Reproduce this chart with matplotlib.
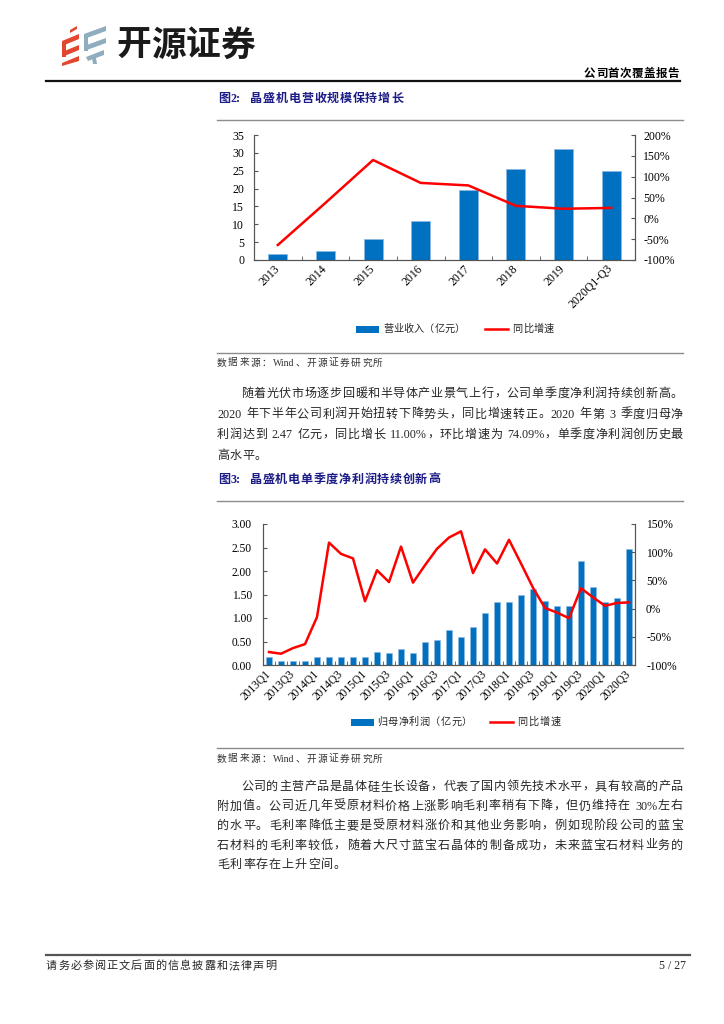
import matplotlib
matplotlib.use('Agg')
import matplotlib.pyplot as plt
from matplotlib.patches import Polygon, Rectangle
from matplotlib.lines import Line2D
from matplotlib.ticker import FuncFormatter
import numpy as np

# ---------------- data ----------------
years = ['2013', '2014', '2015', '2016', '2017', '2018', '2019', '2020Q1-Q3']
revenue = [1.7, 2.5, 5.9, 11.0, 19.5, 25.4, 31.1, 24.8]
revenue_yoy = [-64, 37, 140, 85, 79, 30, 23, 25]

quarters = ['2013Q1', '2013Q2', '2013Q3', '2013Q4',
            '2014Q1', '2014Q2', '2014Q3', '2014Q4',
            '2015Q1', '2015Q2', '2015Q3', '2015Q4',
            '2016Q1', '2016Q2', '2016Q3', '2016Q4',
            '2017Q1', '2017Q2', '2017Q3', '2017Q4',
            '2018Q1', '2018Q2', '2018Q3', '2018Q4',
            '2019Q1', '2019Q2', '2019Q3', '2019Q4',
            '2020Q1', '2020Q2', '2020Q3']
net_profit = [0.18, 0.08, 0.09, 0.08,
              0.16, 0.17, 0.18, 0.16,
              0.18, 0.27, 0.26, 0.33,
              0.26, 0.50, 0.54, 0.74,
              0.60, 0.81, 1.11, 1.34,
              1.35, 1.50, 1.61, 1.36,
              1.26, 1.25, 2.21, 1.65,
              1.34, 1.42, 2.47]
profit_yoy = [-77, -80, -70, -63,
              -15, 117, 97, 89,
              13, 68, 47, 110,
              46, 77, 106, 126,
              137, 63, 105, 80,
              122, 80, 37, 1,
              -7, -17, 36, 20,
              5, 10, 11]

legend1 = ['营业收入（亿元）', '同比增速']
legend2 = ['归母净利润（亿元）', '同比增速']

title1 = '图2:  晶盛机电营收规模保持增长'
title2 = '图3:  晶盛机电单季度净利润持续创新高'
source = '数据来源：Wind、开源证券研究所'
para1 = ['随着光伏市场逐步回暖和半导体产业景气上行，公司单季度净利润持续创新高。',
         '2020 年下半年公司利润开始扭转下降势头，同比增速转正。2020 年第 3 季度归母净',
         '利润达到 2.47 亿元，同比增长 11.00%，环比增速为 74.09%，单季度净利润创历史最',
         '高水平。']
para2 = ['公司的主营产品是晶体硅生长设备，代表了国内领先技术水平，具有较高的产品',
         '附加值。公司近几年受原材料价格上涨影响毛利率稍有下降，但仍维持在 30%左右',
         '的水平。毛利率降低主要是受原材料涨价和其他业务影响，例如现阶段公司的蓝宝',
         '石材料的毛利率较低，随着大尺寸蓝宝石晶体的制备成功，未来蓝宝石材料业务的',
         '毛利率存在上升空间。']
header_right = '公司首次覆盖报告'
logo_text = '开源证券'
footer = '请务必参阅正文后面的信息披露和法律声明'
page_no = '5 / 27'

# ---------------- style ----------------
BLUE = '#0070C0'
RED = '#FF0000'
NAVY = '#1C1C86'
SPINE = '#555555'
GREY_LINE = '#8C8C8C'
TEXT_C = '#262626'
SERIF_CJK = ['Liberation Serif', 'Noto Sans CJK SC', 'DejaVu Sans']
CJK_FIRST = ['Noto Sans CJK SC', 'DejaVu Sans']

W, H = 724, 1024
fig = plt.figure(figsize=(7.24, 10.24), dpi=100)
fig.patch.set_facecolor('white')
renderer = fig.canvas.get_renderer()


def fx(x):
    return x / W


def fy(y):
    return 1 - y / H


def hline(x0, x1, y, color, lw):
    fig.add_artist(Line2D([fx(x0), fx(x1)], [fy(y), fy(y)], color=color, lw=lw,
                          transform=fig.transFigure))


def tokens_of(s):
    toks = []
    buf = ''
    for ch in s:
        if ch == ' ':
            if buf:
                toks.append(buf)
                buf = ''
            toks.append(' ')
        elif ord(ch) < 128:
            buf += ch
        else:
            if buf:
                toks.append(buf)
                buf = ''
            toks.append(ch)
    if buf:
        toks.append(buf)
    return toks


def draw_line(s, x0, y, size, x1=None, gap=0.6, weight='normal', color='black',
              family=SERIF_CJK):
    toks = tokens_of(s)
    objs = []
    widths = []
    space_w = size * 100 / 72 * 0.3
    for t in toks:
        if t == ' ':
            objs.append(None)
            widths.append(space_w)
            continue
        o = fig.text(0, fy(y), t, fontsize=size, fontweight=weight, color=color,
                     family=family, ha='left', va='center')
        objs.append(o)
        widths.append(o.get_window_extent(renderer).width)
    n_gaps = len(toks) - 1
    if x1 is not None and n_gaps > 0:
        gap = max((x1 - x0 - sum(widths)) / n_gaps, 0.0)
    x = x0
    for o, w in zip(objs, widths):
        if o is not None:
            o.set_x(fx(x))
        x += w + gap
    return gap


# ---------------- page header ----------------
red_c = '#E2472F'
blue_c = '#8FADBF'
red_polys = [
    [(70, 30), (77, 26), (77, 29), (70, 33)],
    [(62, 41), (79, 34), (79, 39), (62, 46)],
    [(62, 52), (79, 45), (79, 50), (62, 57)],
    [(62, 63), (79, 56), (79, 61), (62, 66)],
    [(62, 41), (66, 41), (66, 57), (62, 57)],
]
blue_polys = [
    [(84, 34), (106, 26), (106, 31), (84, 39)],
    [(84, 46), (106, 38), (106, 43), (84, 51)],
    [(86, 57), (104, 50), (104, 55), (88, 61)],
    [(84, 34), (88, 34), (88, 51), (84, 51)],
    [(92, 58), (96, 58), (97, 64), (93, 64)],
]
for p in red_polys:
    fig.add_artist(Polygon([(fx(a), fy(b)) for a, b in p], closed=True,
                           facecolor=red_c, edgecolor='none', transform=fig.transFigure))
for p in blue_polys:
    fig.add_artist(Polygon([(fx(a), fy(b)) for a, b in p], closed=True,
                           facecolor=blue_c, edgecolor='none', transform=fig.transFigure))
draw_line(logo_text, 116, 45, 25, x1=255, weight='bold', color='#1a1a1a',
          family=CJK_FIRST)

draw_line(header_right, 584, 73, 8.3, x1=679, weight='bold', color='black',
          family=CJK_FIRST)
hline(46, 680, 81, '#111111', 1.6)

# ---------------- figure 2 ----------------
draw_line(title1, 218, 99, 8.7, x1=403, weight='bold', color=NAVY)
hline(217, 683, 120, GREY_LINE, 1.0)

ax1 = fig.add_axes([fx(254), fy(260), fx(635) - fx(254), (260 - 135) / H])
x1 = np.arange(len(years))
ax1.bar(x1, revenue, width=0.4, color=BLUE, edgecolor='#8DB9E2', linewidth=0.5,
        zorder=2)
ax1.set_xlim(-0.5, len(years) - 0.5)
ax1.set_ylim(0, 35)
ax1.set_yticks(np.arange(0, 36, 5))
ax1.set_xticks(x1)
ax1.set_xticklabels(years, rotation=45, ha='right', va='center',
                    rotation_mode='anchor')
ax1.set_xticks(np.arange(-0.5, len(years), 1), minor=True)
ax1.tick_params(axis='x', which='major', length=0, pad=5)
ax1.tick_params(axis='x', which='minor', length=3, direction='in', color=SPINE)
ax1.tick_params(axis='y', length=3, direction='in', pad=7, color=SPINE)
ax1.spines['top'].set_visible(False)
for sp in ['left', 'right', 'bottom']:
    ax1.spines[sp].set_color(SPINE)
    ax1.spines[sp].set_linewidth(0.8)
for lab in ax1.get_xticklabels() + ax1.get_yticklabels():
    lab.set_family('Liberation Serif')
    lab.set_fontsize(8.5)

ax1b = ax1.twinx()
ax1b.plot(x1, revenue_yoy, color=RED, lw=1.8, zorder=3)
ax1b.set_ylim(-100, 200)
ax1b.set_yticks(np.arange(-100, 201, 50))
ax1b.yaxis.set_major_formatter(FuncFormatter(lambda v, p: f'{v:.0f}%'))
ax1b.tick_params(axis='y', length=3, direction='in', pad=6, color=SPINE)
ax1b.spines['top'].set_visible(False)
for sp in ['left', 'right', 'bottom']:
    ax1b.spines[sp].set_color(SPINE)
    ax1b.spines[sp].set_linewidth(0.8)
for lab in ax1b.get_yticklabels():
    lab.set_family('Liberation Serif')
    lab.set_fontsize(8.5)

# legend 1
fig.add_artist(Rectangle((fx(356), fy(332.5)), (379 - 356) / W, 7 / H,
                         facecolor=BLUE, edgecolor='none', transform=fig.transFigure))
draw_line(legend1[0], 383, 329, 7.3, x1=465, family=CJK_FIRST, color=TEXT_C)
fig.add_artist(Line2D([fx(485), fx(508)], [fy(329), fy(329)], color=RED, lw=1.8,
                      transform=fig.transFigure))
draw_line(legend1[1], 512, 329, 7.3, x1=554, family=CJK_FIRST, color=TEXT_C)

hline(217, 683, 353, GREY_LINE, 1.0)
draw_line(source, 217, 363, 7, x1=383, color='#333333')

# paragraph 1
ys1 = [394, 414.5, 435, 455.5]
g = 0.6
for i, (line, yy) in enumerate(zip(para1, ys1)):
    x0 = 241 if i == 0 else 217
    if i < len(para1) - 1:
        g = draw_line(line, x0, yy, 8.7, x1=683, color=TEXT_C)
    else:
        draw_line(line, x0, yy, 8.7, gap=g, color=TEXT_C)

# ---------------- figure 3 ----------------
draw_line(title2, 218, 480, 8.7, x1=440, weight='bold', color=NAVY)
hline(217, 683, 501, GREY_LINE, 1.0)

ax2 = fig.add_axes([fx(263), fy(665), fx(635) - fx(263), (665 - 524) / H])
x2 = np.arange(len(quarters))
ax2.bar(x2, net_profit, width=0.48, color=BLUE, edgecolor='#8DB9E2', linewidth=0.4,
        zorder=2)
ax2.set_xlim(-0.5, len(quarters) - 0.5)
ax2.set_ylim(0, 3.0)
ax2.set_yticks(np.arange(0, 3.01, 0.5))
ax2.yaxis.set_major_formatter(FuncFormatter(lambda v, p: f'{v:.2f}'))
ax2.set_xticks(x2[::2])
ax2.set_xticklabels(quarters[::2], rotation=45, ha='right', va='center',
                    rotation_mode='anchor')
ax2.set_xticks(np.arange(-0.5, len(quarters), 1), minor=True)
ax2.tick_params(axis='x', which='major', length=0, pad=5)
ax2.tick_params(axis='x', which='minor', length=3, direction='in', color=SPINE)
ax2.tick_params(axis='y', length=3, direction='in', pad=8, color=SPINE)
ax2.spines['top'].set_visible(False)
for sp in ['left', 'right', 'bottom']:
    ax2.spines[sp].set_color(SPINE)
    ax2.spines[sp].set_linewidth(0.8)
for lab in ax2.get_xticklabels() + ax2.get_yticklabels():
    lab.set_family('Liberation Serif')
    lab.set_fontsize(8.3)

ax2b = ax2.twinx()
ax2b.plot(x2, profit_yoy, color=RED, lw=1.8, zorder=3)
ax2b.set_ylim(-100, 150)
ax2b.set_yticks(np.arange(-100, 151, 50))
ax2b.yaxis.set_major_formatter(FuncFormatter(lambda v, p: f'{v:.0f}%'))
ax2b.tick_params(axis='y', length=3, direction='in', pad=8, color=SPINE)
ax2b.spines['top'].set_visible(False)
for sp in ['left', 'right', 'bottom']:
    ax2b.spines[sp].set_color(SPINE)
    ax2b.spines[sp].set_linewidth(0.8)
for lab in ax2b.get_yticklabels():
    lab.set_family('Liberation Serif')
    lab.set_fontsize(8.3)

# legend 2
fig.add_artist(Rectangle((fx(351), fy(725.5)), (374 - 351) / W, 7 / H,
                         facecolor=BLUE, edgecolor='none', transform=fig.transFigure))
draw_line(legend2[0], 377, 722, 7.3, x1=472, family=CJK_FIRST, color=TEXT_C)
fig.add_artist(Line2D([fx(490), fx(513)], [fy(722), fy(722)], color=RED, lw=1.8,
                      transform=fig.transFigure))
draw_line(legend2[1], 517, 722, 7.3, x1=561, family=CJK_FIRST, color=TEXT_C)

hline(217, 683, 748, GREY_LINE, 1.0)
draw_line(source, 217, 759, 7, x1=383, color='#333333')

ys2 = [787, 806.5, 826, 845.5, 865]
for i, (line, yy) in enumerate(zip(para2, ys2)):
    x0 = 241 if i == 0 else 217
    if i < len(para2) - 1:
        g = draw_line(line, x0, yy, 8.7, x1=683, color=TEXT_C)
    else:
        draw_line(line, x0, yy, 8.7, gap=g, color=TEXT_C)

# ---------------- footer ----------------
hline(46, 690, 955, '#555555', 1.6)
draw_line(footer, 46, 966, 8, x1=276, family=CJK_FIRST, color=TEXT_C)
fig.text(fx(686), fy(966), page_no, fontsize=8.5, family='Liberation Serif',
         ha='right', va='center', color=TEXT_C)

fig.savefig('out.png', dpi=100, facecolor='white')
